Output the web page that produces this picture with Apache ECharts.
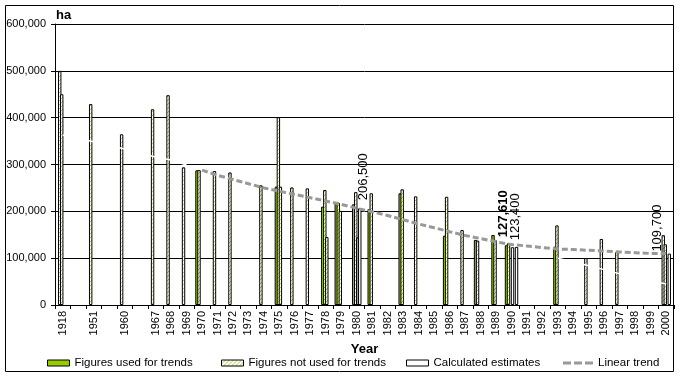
<!DOCTYPE html>
<html><head><meta charset="utf-8">
<script src="https://cdn.jsdelivr.net/npm/echarts@6/dist/echarts.min.js"></script>
<style>html,body{margin:0;padding:0;background:#fff}#c{width:680px;height:378px}</style>
</head><body><div id="c"></div>
<script>
// ---- data ----
const categories = ['1918','','1951','','1960','','1967','1968','1969','1970','1971','1972','1973','1974','1975','1976','1977','1978','1979','1980','1981','1982','1983','1984','1985','1986','1987','1988','1989','1990','1991','1992','1993','1994','1995','1996','1997','1998','1999','2000'];
const yTicks = [0, 100000, 200000, 300000, 400000, 500000, 600000];

// bar "slots" inside each year: U = used for trends, N = not used for trends, C = calculated estimate
const slot0Years  = [1970, 1979, 1986, 1988, 1990];
const slot0Values = [287500, 219000, 148000, 139000, 127610];
const slot0Kinds  = ['U','U','U','U','U'];

const slot1Years  = [1918, 1951, 1960, 1967, 1968, 1969, 1970, 1971, 1972, 1974, 1975, 1976, 1977, 1978, 1979, 1980, 1981, 1983, 1984, 1986, 1987, 1988, 1989, 1990, 1993, 1995, 1996, 1997, 2000];
const slot1Values = [500000, 429000, 364500, 418000, 448000, 294000, 288000, 286000, 283000, 255500, 252700, 251000, 249000, 210000, 218000, 215000, 205000, 238500, 232000, 231000, 160000, 137500, 149500, 131700, 124500, 100000, 141000, 113000, 149000];
const slot1Kinds  = ['N','N','N','N','N','N','N','N','N','N','U','N','N','U','N','U','U','U','N','N','N','N','U','N','U','N','N','N','N'];

const slot2Years  = [1918, 1975, 1978, 1979, 1980, 1981, 1983, 1989, 1993, 2000];
const slot2Values = [450000, 401000, 245600, 201000, 241000, 238500, 247000, 139000, 170000, 129600];
const slot2Kinds  = ['N','N','N','N','N','N','N','N','N','N'];

const slot3Years  = [1975, 1978, 1980, 1990];
const slot3Values = [252700, 145000, 144500, 123400];
const slot3Kinds  = ['N','N','U','C'];

const slot4Years  = [1980, 2000];
const slot4Values = [206500, 109700];
const slot4Kinds  = ['C','C'];

const slot5Years  = [1990];
const slot5Values = [124000];
const slot5Kinds  = ['C'];

// data labels (slot, year)
const labelSlots  = [4, 0, 3, 4];
const labelYears  = [1980, 1990, 1990, 2000];
const labelBold   = [false, true, false, false];

// linear trend
const trendYears  = [1970,1971,1972,1973,1974,1975,1976,1977,1978,1979,1980,1981,1982,1983,1984,1985,1986,1987,1988,1989,1990,1991,1992,1993,1994,1995,1996,1997,1998,1999,2000];
const trendValues = [288000,277000,268000,259000,250000,243000,236000,229000,222000,215000,206500,199000,191000,182000,173000,165000,156500,148600,142000,135000,129000,126000,122500,119500,118500,116800,115000,113400,111700,110000,109700];

// faint white fitted lines (visible only where they cross bars / gridlines)
const whiteAYears  = [1918, 1951, 1960, 1967, 1968, 1969];
const whiteAValues = [363000, 348700, 333000, 316000, 309600, 299000];
const whiteBYears  = [1993, 1995, 1996, 1997, 2000];
const whiteBValues = [100000, 84000, 75500, 66500, 45000];

// ---- styling ----
const FONT = '"Liberation Sans", Arial, sans-serif';
const GREEN = '#99cc00';
function hatchCanvas() {
  const c = document.createElement('canvas'); c.width = 4; c.height = 4;
  const g = c.getContext('2d');
  g.fillStyle = '#ffffff'; g.fillRect(0, 0, 4, 4);
  g.fillStyle = '#b4cc3c';
  for (let i = 0; i < 4; i++) g.fillRect(i, 3 - i, 1, 1);
  return c;
}
const HATCH = { image: hatchCanvas(), repeat: 'repeat' };
function kindStyle(k) {
  if (k === 'U') return { color: GREEN, borderColor: '#000', borderWidth: 1 };
  if (k === 'N') return { color: HATCH, borderColor: '#000', borderWidth: 1 };
  return { color: '#ffffff', borderColor: '#000', borderWidth: 1 };
}
function fmt(v) { return String(v).replace(/\B(?=(\d{3})+(?!\d))/g, ','); }
// [screen-x shift, distance above bar]
const labelOffsets = { '4_1980': [4, 8], '0_1990': [-3.5, 8], '3_1990': [2.5, 7], '4_2000': [-11.5, 2] };

function slotSeries(k, years, values, kinds) {
  const data = categories.map(() => '-');
  years.forEach((y, i) => {
    const idx = categories.indexOf(String(y));
    const item = { value: values[i], itemStyle: kindStyle(kinds[i]) };
    labelSlots.forEach((s, j) => {
      if (s === k && labelYears[j] === y) {
        const o = labelOffsets[k + '_' + y] || [0, 6];
        item.label = {
          show: true, position: 'top', rotate: 90, align: 'left', verticalAlign: 'middle',
          distance: o[1], offset: [0, o[0]],
          fontSize: 13, fontFamily: FONT, color: '#000',
          fontWeight: labelBold[j] ? 'bold' : 'normal',
          formatter: (p) => fmt(p.value)
        };
      }
    });
    data[idx] = item;
  });
  return { type: 'bar', name: 'slot' + k, data: data, barWidth: 3.4, barGap: '-41%', animation: false, silent: true };
}
function lineData(years, values) {
  const d = categories.map(() => '-');
  years.forEach((y, i) => { d[categories.indexOf(String(y))] = values[i]; });
  return d;
}

const chart = echarts.init(document.getElementById('c'), null, { renderer: 'canvas' });
const legendCommon = { top: 357, padding: 0, itemWidth: 22, itemHeight: 6, itemGap: 0, selectedMode: false,
  textStyle: { fontSize: 11.5, fontFamily: FONT, color: '#000' } };
chart.setOption({
  animation: false,
  backgroundColor: '#fff',
  textStyle: { fontFamily: FONT },
  grid: { left: 55, right: 6, top: 24, bottom: 73, show: false },
  graphic: [
    { type: 'rect', shape: { x: 5.5, y: 5.5, width: 668, height: 366 }, style: { fill: null, stroke: '#000', lineWidth: 1 }, silent: true },
    { type: 'text', left: 56, top: 9, style: { text: 'ha', font: 'bold 13px ' + FONT, fill: '#000' }, silent: true }
  ],
  legend: [
    Object.assign({}, legendCommon, { left: 47, data: [{ name: 'Figures used for trends', icon: 'rect', itemStyle: { color: GREEN, borderColor: '#000', borderWidth: 1 } }] }),
    Object.assign({}, legendCommon, { left: 221, data: [{ name: 'Figures not used for trends', icon: 'rect', itemStyle: { color: HATCH, borderColor: '#000', borderWidth: 1 } }] }),
    Object.assign({}, legendCommon, { left: 406, data: [{ name: 'Calculated estimates', icon: 'rect', itemStyle: { color: '#fff', borderColor: '#000', borderWidth: 1 } }] }),
    Object.assign({}, legendCommon, { left: 563, itemWidth: 30, itemHeight: 3, data: [{ name: 'Linear trend',
      icon: 'path://M0,0h8v3h-8z M11,0h8v3h-8z M22,0h8v3h-8z', itemStyle: { color: '#999999', borderWidth: 0 } }] })
  ],
  xAxis: {
    type: 'category', data: categories, boundaryGap: true,
    axisLine: { show: true, lineStyle: { color: '#000', width: 1 } },
    axisTick: { show: true, interval: 0, alignWithLabel: false, length: 4, lineStyle: { color: '#000' } },
    axisLabel: { interval: 0, rotate: 90, fontSize: 11, color: '#000', margin: 6, fontFamily: FONT },
    splitLine: { show: false },
    name: 'Year', nameLocation: 'middle', nameGap: 38,
    nameTextStyle: { fontWeight: 'bold', fontSize: 13, color: '#000', fontFamily: FONT }
  },
  yAxis: {
    type: 'value', min: yTicks[0], max: yTicks[yTicks.length - 1], interval: yTicks[1] - yTicks[0],
    axisLine: { show: true, lineStyle: { color: '#000', width: 1 } },
    axisTick: { show: true, length: 4, lineStyle: { color: '#000' } },
    axisLabel: { fontSize: 11, color: '#000', margin: 9, fontFamily: FONT, formatter: fmt },
    splitLine: { show: true, lineStyle: { color: '#000', width: 1 } }
  },
  series: [
    slotSeries(0, slot0Years, slot0Values, slot0Kinds),
    slotSeries(1, slot1Years, slot1Values, slot1Kinds),
    slotSeries(2, slot2Years, slot2Values, slot2Kinds),
    slotSeries(3, slot3Years, slot3Values, slot3Kinds),
    slotSeries(4, slot4Years, slot4Values, slot4Kinds),
    slotSeries(5, slot5Years, slot5Values, slot5Kinds),
    { type: 'line', name: 'whiteA', data: lineData(whiteAYears, whiteAValues), connectNulls: true, symbol: 'none',
      lineStyle: { color: '#fff', width: 1.5 }, silent: true, z: 3 },
    { type: 'line', name: 'whiteB', data: lineData(whiteBYears, whiteBValues), connectNulls: true, symbol: 'none',
      lineStyle: { color: '#fff', width: 1.5 }, silent: true, z: 3 },
    { type: 'line', name: 'Linear trend', data: lineData(trendYears, trendValues), connectNulls: true, symbol: 'none',
      itemStyle: { color: '#999999' }, lineStyle: { color: '#999999', width: 3, type: [6, 3] }, silent: true, z: 4 },
    { type: 'line', name: 'Figures used for trends', data: [], itemStyle: { color: GREEN } },
    { type: 'line', name: 'Figures not used for trends', data: [], itemStyle: { color: '#b4cc3c' } },
    { type: 'line', name: 'Calculated estimates', data: [], itemStyle: { color: '#fff' } }
  ]
});
</script></body></html>
